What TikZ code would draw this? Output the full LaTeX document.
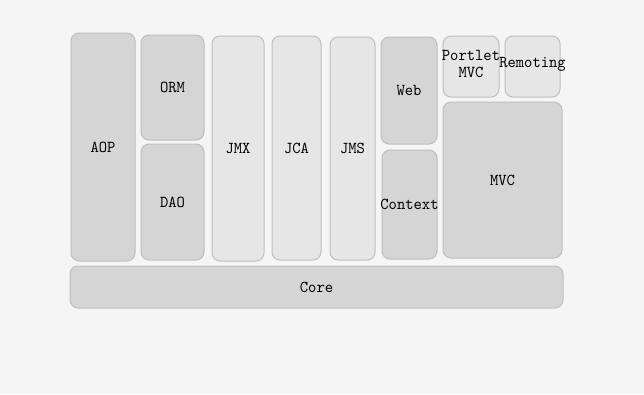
\documentclass[tikz,border=0pt]{standalone}
\usepackage{fontspec}
\newfontfamily\boxfont[FakeStretch=0.95]{lmmono10-regular.otf}
\definecolor{canvas}{HTML}{F5F5F5}
\definecolor{darkfill}{HTML}{D5D5D5}
\definecolor{lightfill}{HTML}{E6E6E6}
\definecolor{edge}{HTML}{BEBEBE}
\begin{document}
\begin{tikzpicture}[x=0.75pt,y=-0.75pt,
  bw/.style={minimum width=#1*0.75pt},
  bh/.style={minimum height=#1*0.75pt},
  module/.style={draw=edge,line width=0.75pt,rounded corners=6pt,inner sep=0pt,outer sep=0pt},
  darkbox/.style={module,fill=darkfill},
  lightbox/.style={module,fill=lightfill},
  every label/.style={font=\boxfont\fontsize{12.5}{12.75}\selectfont,inner sep=0pt,text=black}]
  % canvas
  \fill[canvas] (0,0) rectangle (644,394);
  \useasboundingbox (0,0) rectangle (644,394);

  % left column group
  \node[darkbox,bw=64,bh=228,label=center:AOP] (aop) at (103,147) {};
  \node[darkbox,bw=63,bh=105,label=center:ORM] (orm) at (172.5,87.5) {};
  \node[darkbox,bw=63,bh=116,label=center:DAO] (dao) at (172.5,202) {};

  % Java EE integration columns
  \node[lightbox,bw=52,bh=225,label=center:JMX] (jmx) at (238,148.5) {};
  \node[lightbox,bw=49,bh=224,label=center:JCA] (jca) at (296.5,148) {};
  \node[lightbox,bw=45,bh=223,label=center:JMS] (jms) at (352.5,148.5) {};

  % web / context
  \node[darkbox,bw=56,bh=107,label=center:Web] (web) at (409,90.5) {};
  \node[darkbox,bw=55,bh=109,label=center:Context] (context) at (409.5,204.5) {};

  % web frameworks
  \node[lightbox,bw=56,bh=61,label={[align=center,yshift=2.25pt]center:Portlet\\MVC}] (portlet) at (471,66.5) {};
  \node[lightbox,bw=55,bh=61,label={[yshift=1.5pt]center:Remoting}] (remoting) at (532.5,66.5) {};
  \node[darkbox,bw=119,bh=156,label=center:MVC] (mvc) at (502.5,180) {};

  % foundation
  \node[darkbox,bw=493,bh=42,label=center:Core] (core) at (316.5,287) {};
\end{tikzpicture}
\end{document}
